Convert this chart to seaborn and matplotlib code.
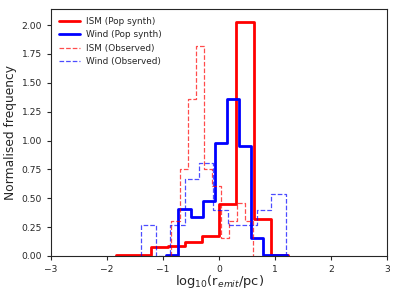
import numpy as np
import matplotlib
matplotlib.use("Agg")
import matplotlib.pyplot as plt
import seaborn as sns

# bin edges (log10 r_emit / pc)
ism_pop_edges = np.linspace(-1.834, 1.23, 11)
wind_pop_edges = np.linspace(-0.94, 1.215, 11)
ism_obs_edges = np.linspace(-0.852, 0.615, 11)
wind_obs_edges = np.linspace(-1.3875, 1.189, 11)

# normalised heights of the population synthesis histograms
ism_pop_heights = [0.01, 0.01, 0.075, 0.085, 0.125, 0.175, 0.45, 2.03, 0.32, 0.01]
wind_pop_heights = [0.01, 0.41, 0.335, 0.475, 0.98, 1.36, 0.95, 0.155, 0.01, 0.01]

# counts per bin of the observed samples
ism_obs_counts = [2, 5, 9, 12, 5, 4, 1, 2, 3, 2]
wind_obs_counts = [2, 0, 2, 5, 6, 3, 2, 2, 3, 4]

sns.set_style("ticks")
plt.rcParams['font.family'] = ['DejaVu Sans']

fig = plt.figure(figsize=(3.99, 2.99), dpi=100)
ax = fig.add_axes([0.128, 0.144, 0.842, 0.826])


def centres(edges):
    return (edges[:-1] + edges[1:]) / 2


def step_hist(edges, weights, stat, **kws):
    sns.histplot(x=centres(edges), weights=weights, bins=edges.tolist(),
                 stat=stat, element="step", fill=False, ax=ax, **kws)
    # seaborn leaves the outer edges open, drop them down to zero like plt.hist
    line = ax.lines[-1]
    x, y = line.get_data()
    line.set_data(np.r_[x[0], x, x[-1]], np.r_[0, y, 0])


step_hist(ism_pop_edges, ism_pop_heights, "count", color="red", lw=2,
          label="ISM (Pop synth)")
step_hist(wind_pop_edges, wind_pop_heights, "count", color="blue", lw=2,
          label="Wind (Pop synth)")
step_hist(ism_obs_edges, ism_obs_counts, "density", color="red", lw=0.9,
          ls="--", alpha=0.7, label="ISM (Observed)")
step_hist(wind_obs_edges, wind_obs_counts, "density", color="blue", lw=0.9,
          ls="--", alpha=0.7, label="Wind (Observed)")

ax.set_xlim(-3, 3)
ax.set_ylim(0, 2.14)
ax.set_xticks(range(-3, 4))
ax.set_yticks(np.arange(0, 2.01, 0.25))
ax.yaxis.set_major_formatter(matplotlib.ticker.FormatStrFormatter('%.2f'))
ax.tick_params(labelsize=6.6, length=3)
ax.set_xlabel(r"log$_{10}$(r$_{emit}$/pc)", fontsize=9.4, labelpad=-0.5)
ax.set_ylabel("Normalised frequency", fontsize=8.8, labelpad=3)
ax.legend(loc="upper left", frameon=False, fontsize=6.4, handlelength=2.3,
          handletextpad=0.7)

fig.savefig("out.png", dpi=100)
